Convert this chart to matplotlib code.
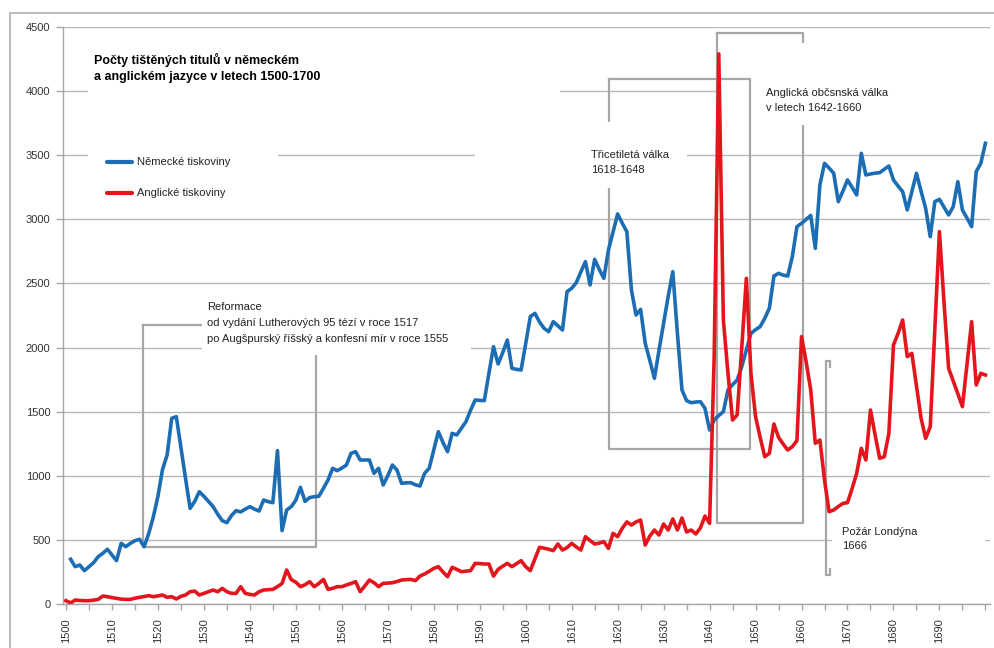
import matplotlib
matplotlib.use("Agg")
import matplotlib.pyplot as plt
import numpy as np
from matplotlib.lines import Line2D
from matplotlib.patches import Rectangle

plt.rcParams["font.family"] = ["Liberation Sans", "DejaVu Sans"]

W, H = 994, 648

years = np.arange(1500, 1701)

# Německé tiskoviny (no value for 1500)
german = [
    np.nan, 349, 291, 304, 260, 291, 322, 369, 395, 427,
    382, 338, 473, 447, 473, 494, 505, 447, 550, 680,
    840, 1050, 1162, 1448, 1461, 1220, 980, 746, 800, 876,
    840, 800, 760, 700, 650, 634, 690, 728, 718, 740,
    759, 740, 725, 811, 798, 790, 1196, 572, 733, 759,
    810, 910, 800, 830, 837, 840, 902, 967, 1058, 1040,
    1060, 1084, 1175, 1188, 1123, 1123, 1123, 1019, 1058, 928,
    1000, 1084, 1045, 941, 945, 946, 930, 920, 1019, 1058,
    1200, 1344, 1260, 1188, 1331, 1318, 1370, 1422, 1510, 1591,
    1588, 1586, 1800, 2007, 1872, 1960, 2059, 1838, 1830, 1825,
    2030, 2241, 2267, 2200, 2150, 2124, 2202, 2170, 2137, 2436,
    2462, 2506, 2590, 2670, 2488, 2688, 2610, 2540, 2761, 2900,
    3042, 2970, 2904, 2449, 2254, 2298, 2033, 1900, 1760, 1980,
    2189, 2400, 2592, 2111, 1669, 1586, 1570, 1575, 1578, 1526,
    1357, 1435, 1470, 1500, 1669, 1710, 1747, 1851, 1980, 2111,
    2140, 2163, 2228, 2306, 2558, 2579, 2565, 2558, 2709, 2943,
    2969, 3000, 3030, 2774, 3270, 3437, 3400, 3359, 3138, 3220,
    3307, 3250, 3190, 3515, 3346, 3354, 3360, 3364, 3390, 3416,
    3307, 3260, 3216, 3073, 3216, 3359, 3220, 3086, 2865, 3138,
    3156, 3095, 3034, 3099, 3294, 3073, 3010, 2943, 3372, 3437,
    3593,
]

# Anglické tiskoviny
english = [
    26, 8, 31, 28, 26, 26, 30, 36, 62, 57,
    50, 44, 38, 36, 36, 45, 52, 58, 65, 57,
    63, 70, 52, 57, 39, 60, 70, 96, 101, 70,
    83, 96, 109, 96, 122, 96, 83, 83, 135, 83,
    75, 70, 96, 109, 112, 114, 135, 160, 265, 190,
    170, 135, 150, 174, 135, 160, 192, 114, 122, 135,
    135, 148, 160, 174, 96, 140, 187, 166, 135, 161,
    163, 166, 175, 187, 190, 192, 182, 218, 234, 255,
    278, 291, 250, 213, 286, 270, 252, 256, 260, 317,
    315, 312, 312, 218, 270, 295, 317, 291, 315, 338,
    291, 260, 350, 442, 435, 427, 416, 468, 421, 440,
    473, 445, 421, 525, 495, 468, 475, 486, 434, 551,
    525, 590, 640, 616, 640, 655, 460, 530, 577, 538,
    624, 577, 663, 577, 671, 562, 577, 546, 593, 686,
    629, 1929, 4290, 2215, 1800, 1435, 1474, 2000, 2540, 1799,
    1461, 1300, 1149, 1175, 1404, 1300, 1248, 1201, 1227, 1274,
    2085, 1890, 1669, 1253, 1279, 967, 720, 733, 760, 785,
    790, 900, 1019, 1214, 1123, 1513, 1320, 1136, 1149, 1331,
    2020, 2110, 2215, 1929, 1955, 1700, 1450, 1292, 1383, 2150,
    2904, 2350, 1838, 1740, 1640, 1539, 1870, 2202, 1708, 1799,
    1786,
]

series_labels = ["Německé tiskoviny", "Anglické tiskoviny"]
series_colors = ["#1c6db3", "#e3161d"]

title_lines = ["Počty tištěných titulů v německém",
               "a anglickém jazyce v letech 1500-1700"]

# annotation brackets: (x0, x1, y0, y1) in years / titles
brackets = {
    "reformace": (1516.8, 1554.4, 445, 2176),
    "tricetileta": (1618.2, 1648.9, 1209, 4095),
    "anglicka": (1641.7, 1660.4, 632, 4453),
}
fire_bracket = (1665.4, 1666.3, 226, 1895)

notes = [
    (207, [307, 323, 339], ["Reformace",
                            "od vydání Lutherových 95 tézí v roce 1517",
                            "po Augšpurský říšský a konfesní mír v roce 1555"]),
    (591, [155, 170], ["Třicetiletá válka", "1618-1648"]),
    (766, [93, 108], ["Anglická občsnská válka", "v letech 1642-1660"]),
    (842, [532, 546], ["Požár Londýna", "1666"]),
]

GRID = "#b8b8b8"
FRAME = "#a6a6a6"
TEXT = "#222222"


def fx(x):
    return x / W


def fy(y):
    return 1 - y / H


fig = plt.figure(figsize=(W / 100, H / 100), dpi=100)
ax = fig.add_axes([fx(63), fy(604), fx(990) - fx(63), fy(27) - fy(604)])

ax.set_xlim(1499.35, 1701.0)
ax.set_ylim(0, 4500)
ax.set_yticks(np.arange(0, 4501, 500))
ax.set_xticks(np.arange(1500, 1701, 5))
ax.set_xticklabels([str(y) if y % 10 == 0 and y < 1700 else ""
                    for y in range(1500, 1701, 5)], rotation=90)
ax.tick_params(axis="y", length=5, width=1, color=FRAME, labelsize=8,
               labelcolor="#333333", pad=4)
ax.tick_params(axis="x", length=4, width=1, color=FRAME,
               labelsize=8, labelcolor="#333333", pad=6)

for s in ["top", "right"]:
    ax.spines[s].set_visible(False)
for s in ["left", "bottom"]:
    ax.spines[s].set_color(FRAME)
    ax.spines[s].set_linewidth(1)

ax.grid(axis="y", color=GRID, linewidth=1)
ax.set_axisbelow(True)

# white text boxes hiding grid lines
boxes = [
    (88, 40, 472, 62),     # title
    (88, 138, 190, 68),    # legend
    (202, 290, 269, 65),   # reformace
    (475, 122, 212, 66),   # tricetileta
    (720, 43, 274, 82),    # anglicka
    (832, 515, 153, 60),   # pozar
]
for bx, by, bw, bh in boxes:
    ax.add_patch(Rectangle((fx(bx), fy(by + bh)), bw / W, bh / H,
                           transform=fig.transFigure, facecolor="white",
                           edgecolor="none", zorder=1.2))

# brackets
for name, (x0, x1, y0, y1) in brackets.items():
    z = 1.4 if name == "tricetileta" else 1.0
    ax.plot([x0, x0, x1, x1, x0], [y1, y0, y0, y1, y1], color=FRAME,
            linewidth=1.6, zorder=z)
x0, x1, y0, y1 = fire_bracket
ax.plot([x1, x1, x0, x0, x1, x1], [y1 - 50, y1, y1, y0, y0, y0 + 50],
        color=FRAME, linewidth=1.6, zorder=1)

# cover the left bracket edge of the Thirty Years' War note
ax.add_patch(Rectangle((fx(600), fy(188)), 20 / W, 66 / H,
                       transform=fig.transFigure, facecolor="white",
                       edgecolor="none", zorder=1.5))

ax.plot(years, german, color=series_colors[0], linewidth=2.6, zorder=3,
        solid_joinstyle="round")
ax.plot(years, english, color=series_colors[1], linewidth=2.6, zorder=3,
        solid_joinstyle="round")

# title
fig.text(fx(94), fy(60), title_lines[0], fontsize=9, fontweight="bold",
         color="black", va="center")
fig.text(fx(94), fy(77), title_lines[1], fontsize=9, fontweight="bold",
         color="black", va="center")

# legend
for i, (lab, col) in enumerate(zip(series_labels, series_colors)):
    yy = 162 + i * 31
    fig.add_artist(Line2D([fx(107), fx(132)], [fy(yy), fy(yy)], color=col,
                          linewidth=3, solid_capstyle="round"))
    fig.text(fx(137), fy(yy), lab, fontsize=8, color=TEXT, va="center")

for x, ys, lines in notes:
    for yy, line in zip(ys, lines):
        fig.text(fx(x), fy(yy), line, fontsize=8, color=TEXT, va="center")

# outer frame
fig.add_artist(Line2D([fx(10), fx(10), fx(994)], [fy(648), fy(13), fy(13)],
                      color="#b0b0b0", linewidth=1.2))

fig.savefig("out.png", dpi=100)
